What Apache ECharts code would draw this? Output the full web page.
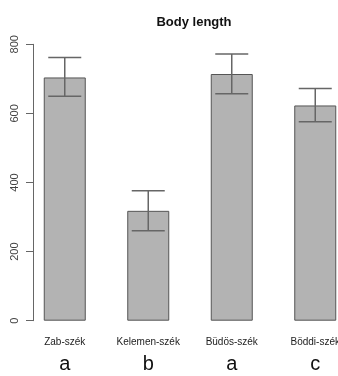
<!DOCTYPE html>
<html><head><meta charset="utf-8">
<script src="https://cdn.jsdelivr.net/npm/echarts@6/dist/echarts.min.js"></script>
<style>html,body{margin:0;padding:0;background:#fff;overflow:hidden;width:338px;height:376px}#c{width:380px;height:376px}</style>
</head><body><div id="c"></div>
<script>
var categories = ['Zab-szék', 'Kelemen-szék', 'Büdös-szék', 'Böddi-szék'];
var letters = ['a', 'b', 'a', 'c'];
var means = [704, 318, 714, 623];
var upper = [762, 376, 772, 672];
var lower = [650, 260, 657, 576];
var yTicks = [0, 200, 400, 600, 800];

var chart = echarts.init(document.getElementById('c'));
var font = 'Liberation Sans, Arial, sans-serif';
chart.setOption({
  animation: false,
  title: {
    text: 'Body length', left: 189, top: 11, textAlign: 'center',
    textStyle: { fontFamily: font, fontSize: 13, fontWeight: 'bold', color: '#111' }
  },
  grid: { left: 23, right: 23, top: 44.3, bottom: 55.3, containLabel: false },
  xAxis: {
    type: 'category', data: categories,
    axisLine: { show: false }, axisTick: { show: false },
    axisLabel: {
      interval: 0, margin: 15,
      formatter: function (v, i) { return '{n|' + v + '}\n{l|' + letters[i] + '}'; },
      rich: {
        n: { fontFamily: font, fontSize: 10, color: '#222', lineHeight: 14 },
        l: { fontFamily: font, fontSize: 20, color: '#111', lineHeight: 30 }
      }
    }
  },
  yAxis: {
    type: 'value', min: 0, max: 800, interval: 200, offset: -10,
    axisLine: { show: true, lineStyle: { color: '#666', width: 1 } },
    axisTick: { show: true, length: 7, lineStyle: { color: '#666' } },
    splitLine: { show: false },
    axisLabel: {
      rotate: 90, margin: 13, fontFamily: font, fontSize: 11, color: '#444',
      formatter: function (v) { return yTicks.indexOf(v) >= 0 ? String(v) : ''; }
    }
  },
  series: [{
    type: 'bar', data: means, barWidth: 42,
    itemStyle: { color: '#b3b3b3', borderColor: '#555', borderWidth: 1 }
  }, {
    type: 'custom',
    data: categories.map(function (c, i) { return [i, lower[i], upper[i]]; }),
    renderItem: function (params, api) {
      var lo = api.coord([api.value(0), api.value(1)]);
      var hi = api.coord([api.value(0), api.value(2)]);
      var hw = 16.5;
      var st = { stroke: '#666', lineWidth: 1.5 };
      return { type: 'group', children: [
        { type: 'line', shape: { x1: hi[0], y1: hi[1], x2: lo[0], y2: lo[1] }, style: st },
        { type: 'line', shape: { x1: hi[0] - hw, y1: hi[1], x2: hi[0] + hw, y2: hi[1] }, style: st },
        { type: 'line', shape: { x1: lo[0] - hw, y1: lo[1], x2: lo[0] + hw, y2: lo[1] }, style: st }
      ]};
    },
    z: 5
  }]
});
</script></body></html>
